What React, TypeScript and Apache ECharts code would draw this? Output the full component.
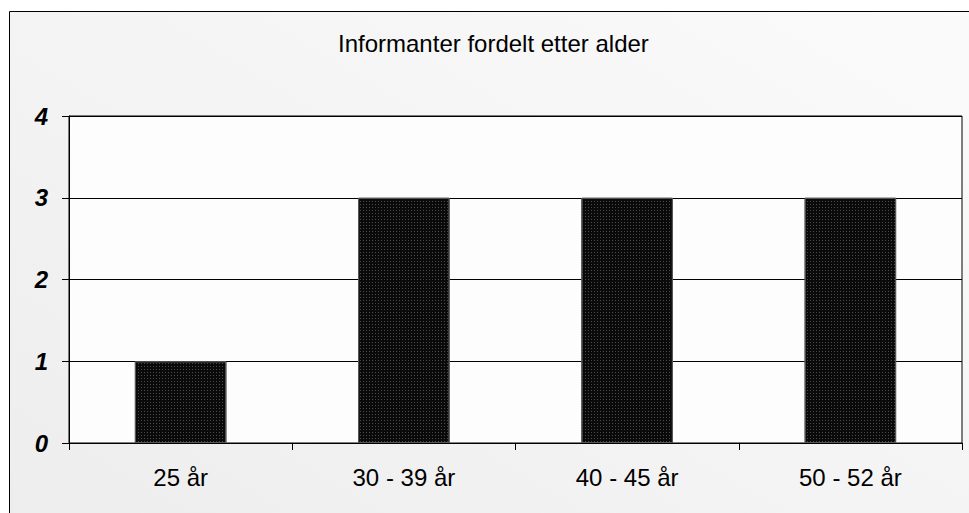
import React, { useEffect, useRef } from "react";
import * as echarts from "echarts";

const titleText = "Informanter fordelt etter alder";
const categories = ["25 år", "30 - 39 år", "40 - 45 år", "50 - 52 år"];
const counts = [1, 3, 3, 3];
const yTicks = { min: 0, max: 4, interval: 1 };

const FONT = "'Liberation Sans', Arial, sans-serif";

export default function App() {
  const ref = useRef<HTMLDivElement>(null);
  useEffect(() => {
    const chart = echarts.init(ref.current!, null, { renderer: "svg" });
    chart.setOption({
      animation: false,
      backgroundColor: "#ffffff",
      graphic: [
        {
          type: "rect",
          z: -10,
          silent: true,
          shape: { x: 9.5, y: 11.5, width: 1000, height: 600 },
          style: {
            fill: new echarts.graphic.LinearGradient(0, 1, 1, 0, [
              { offset: 0, color: "#ececec" },
              { offset: 1, color: "#fbfbfb" },
            ]),
            stroke: "#000",
            lineWidth: 1,
          },
        },
        {
          type: "text",
          x: 338,
          y: 43,
          style: {
            text: titleText,
            fontSize: 24,
            fontFamily: FONT,
            fill: "#000",
            align: "left",
            verticalAlign: "middle",
          },
        },
      ],
      grid: {
        left: 69,
        top: 116,
        width: 893,
        height: 327,
        show: true,
        backgroundColor: "#fdfdfd",
        borderColor: "#000",
        borderWidth: 1,
      },
      xAxis: {
        type: "category",
        data: categories,
        axisLine: { show: true, lineStyle: { color: "#000", width: 1 } },
        axisTick: { show: true, length: 7, alignWithLabel: false, lineStyle: { color: "#000" } },
        axisLabel: {
          margin: 22,
          color: "#000",
          fontSize: 24,
          fontFamily: FONT,
        },
      },
      yAxis: {
        type: "value",
        min: yTicks.min,
        max: yTicks.max,
        interval: yTicks.interval,
        axisLine: { show: true, lineStyle: { color: "#000", width: 1 } },
        axisTick: { show: true, length: 7, lineStyle: { color: "#000" } },
        splitLine: { show: true, lineStyle: { color: "#000", width: 1 } },
        axisLabel: {
          margin: 21,
          color: "#000",
          fontSize: 24,
          fontWeight: "bold",
          fontStyle: "italic",
          fontFamily: FONT,
        },
      },
      aria: { enabled: false, decal: { show: true } },
      series: [
        {
          type: "bar",
          data: counts,
          barWidth: "41%",
          itemStyle: {
            color: "#0a0a0a",
            borderColor: "#555",
            borderWidth: 1,
            decal: {
              symbol: "rect",
              symbolSize: 1,
              dashArrayX: [1, 2],
              dashArrayY: [1, 2],
              color: "rgba(90,90,90,0.8)",
              rotation: 0,
            },
          },
        },
      ],
    });
    return () => chart.dispose();
  }, []);
  return (
    <div
      ref={ref}
      style={{ position: "absolute", left: 0, top: 0, width: 969, height: 513 }}
    />
  );
}
